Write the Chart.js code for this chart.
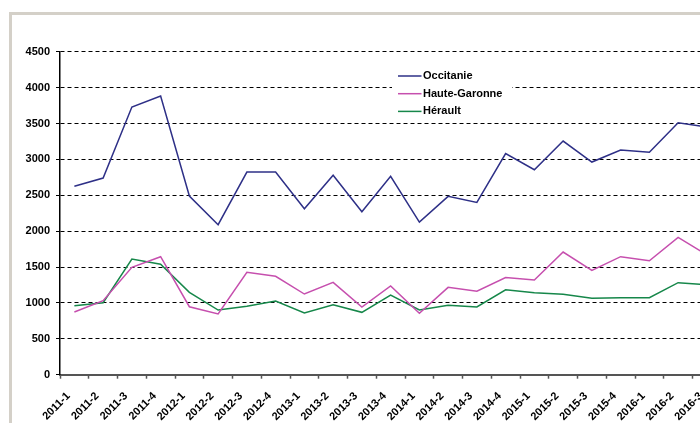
<!DOCTYPE html>
<html>
<head>
<meta charset="utf-8">
<script src="https://cdn.jsdelivr.net/npm/chart.js@4"></script>
<style>
  html, body { margin: 0; padding: 0; background: #fff; overflow: hidden; width: 700px; height: 423px; }
  #frame { position: absolute; left: 9px; top: 12px; width: 900px; height: 500px;
           border-left: 3px solid #d4d0c8; border-top: 3px solid #d4d0c8; }
  #wrap { position: absolute; left: 0; top: 0; width: 740px; height: 423px; }
</style>
</head>
<body>
<div id="frame"></div>
<div id="wrap"><canvas id="c"></canvas></div>
<script>
const categories = ["2011-1","2011-2","2011-3","2011-4","2012-1","2012-2","2012-3","2012-4",
  "2013-1","2013-2","2013-3","2013-4","2014-1","2014-2","2014-3","2014-4",
  "2015-1","2015-2","2015-3","2015-4","2016-1","2016-2","2016-3"];
const occitanie = [2625, 2740, 3729, 3882, 2489, 2090, 2823, 2823, 2312, 2778, 2271, 2764,
  2127, 2485, 2401, 3080, 2856, 3255, 2963, 3130, 3098, 3511, 3450];
const hauteGaronne = [873, 1031, 1496, 1644, 947, 846, 1426, 1371, 1124, 1287, 943, 1236,
  855, 1217, 1162, 1354, 1319, 1709, 1454, 1644, 1588, 1914, 1670];
const herault = [961, 1003, 1612, 1538, 1148, 901, 953, 1025, 859, 975, 869, 1110,
  901, 967, 943, 1182, 1142, 1120, 1064, 1073, 1073, 1282, 1252];
const seriesNames = ["Occitanie", "Haute-Garonne", "Hérault"];
const seriesColors = ["#2E3087", "#C64FAE", "#16874A"];
const yMin = 0, yMax = 4500, yStep = 500;

const FONT = "'Liberation Sans', Arial, sans-serif";

const insideLegend = {
  id: 'insideLegend',
  afterDraw(chart) {
    const ctx = chart.ctx;
    ctx.save();
    ctx.fillStyle = '#fff';
    ctx.fillRect(392, 66, 120, 52);
    ctx.font = "bold 11px " + FONT;
    ctx.textBaseline = 'middle';
    ctx.textAlign = 'left';
    chart.data.datasets.forEach((ds, i) => {
      const y = 76 + i * 17.7;
      ctx.strokeStyle = ds.borderColor;
      ctx.lineWidth = 1.5;
      ctx.beginPath();
      ctx.moveTo(398, y);
      ctx.lineTo(421.5, y);
      ctx.stroke();
      ctx.fillStyle = '#000';
      ctx.fillText(ds.label, 423, y);
    });
    ctx.restore();
  }
};

const datasets = [occitanie, hauteGaronne, herault].map((d, i) => ({
  label: seriesNames[i],
  data: d,
  borderColor: seriesColors[i],
  backgroundColor: seriesColors[i],
  borderWidth: 1.5,
  pointRadius: 0,
  tension: 0,
  fill: false
}));

new Chart(document.getElementById('c'), {
  type: 'line',
  data: { labels: categories, datasets },
  options: {
    responsive: true,
    maintainAspectRatio: false,
    animation: false,
    layout: { padding: { top: 51.7, right: 18.75, bottom: 0, left: 0 } },
    plugins: { legend: { display: false }, tooltip: { enabled: false } },
    scales: {
      x: {
        type: 'category',
        offset: true,
        afterFit(s) { s.height = 48.3; },
        grid: { display: true, drawOnChartArea: false, drawTicks: true, tickLength: 4,
                tickColor: '#555', tickWidth: 1.5, offset: true },
        border: { display: true, color: '#555', width: 2 },
        ticks: { color: '#000', font: { family: FONT, size: 11, weight: 'bold' },
                 maxRotation: 45, minRotation: 45, autoSkip: false, padding: 11, labelOffset: -6 }
      },
      y: {
        min: yMin, max: yMax,
        afterFit(s) { s.width = 60; },
        grid: { color: '#000', lineWidth: 1, drawTicks: true, tickLength: 4, tickColor: '#000',
                tickBorderDash: [], tickWidth: 1 },
        border: { display: true, color: '#000', width: 1.5, dash: [4, 3] },
        ticks: { stepSize: yStep, color: '#000', padding: 6,
                 callback: (v) => String(v),
                 font: { family: FONT, size: 11, weight: 'bold' } }
      }
    }
  },
  plugins: [insideLegend]
});
</script>
</body>
</html>
